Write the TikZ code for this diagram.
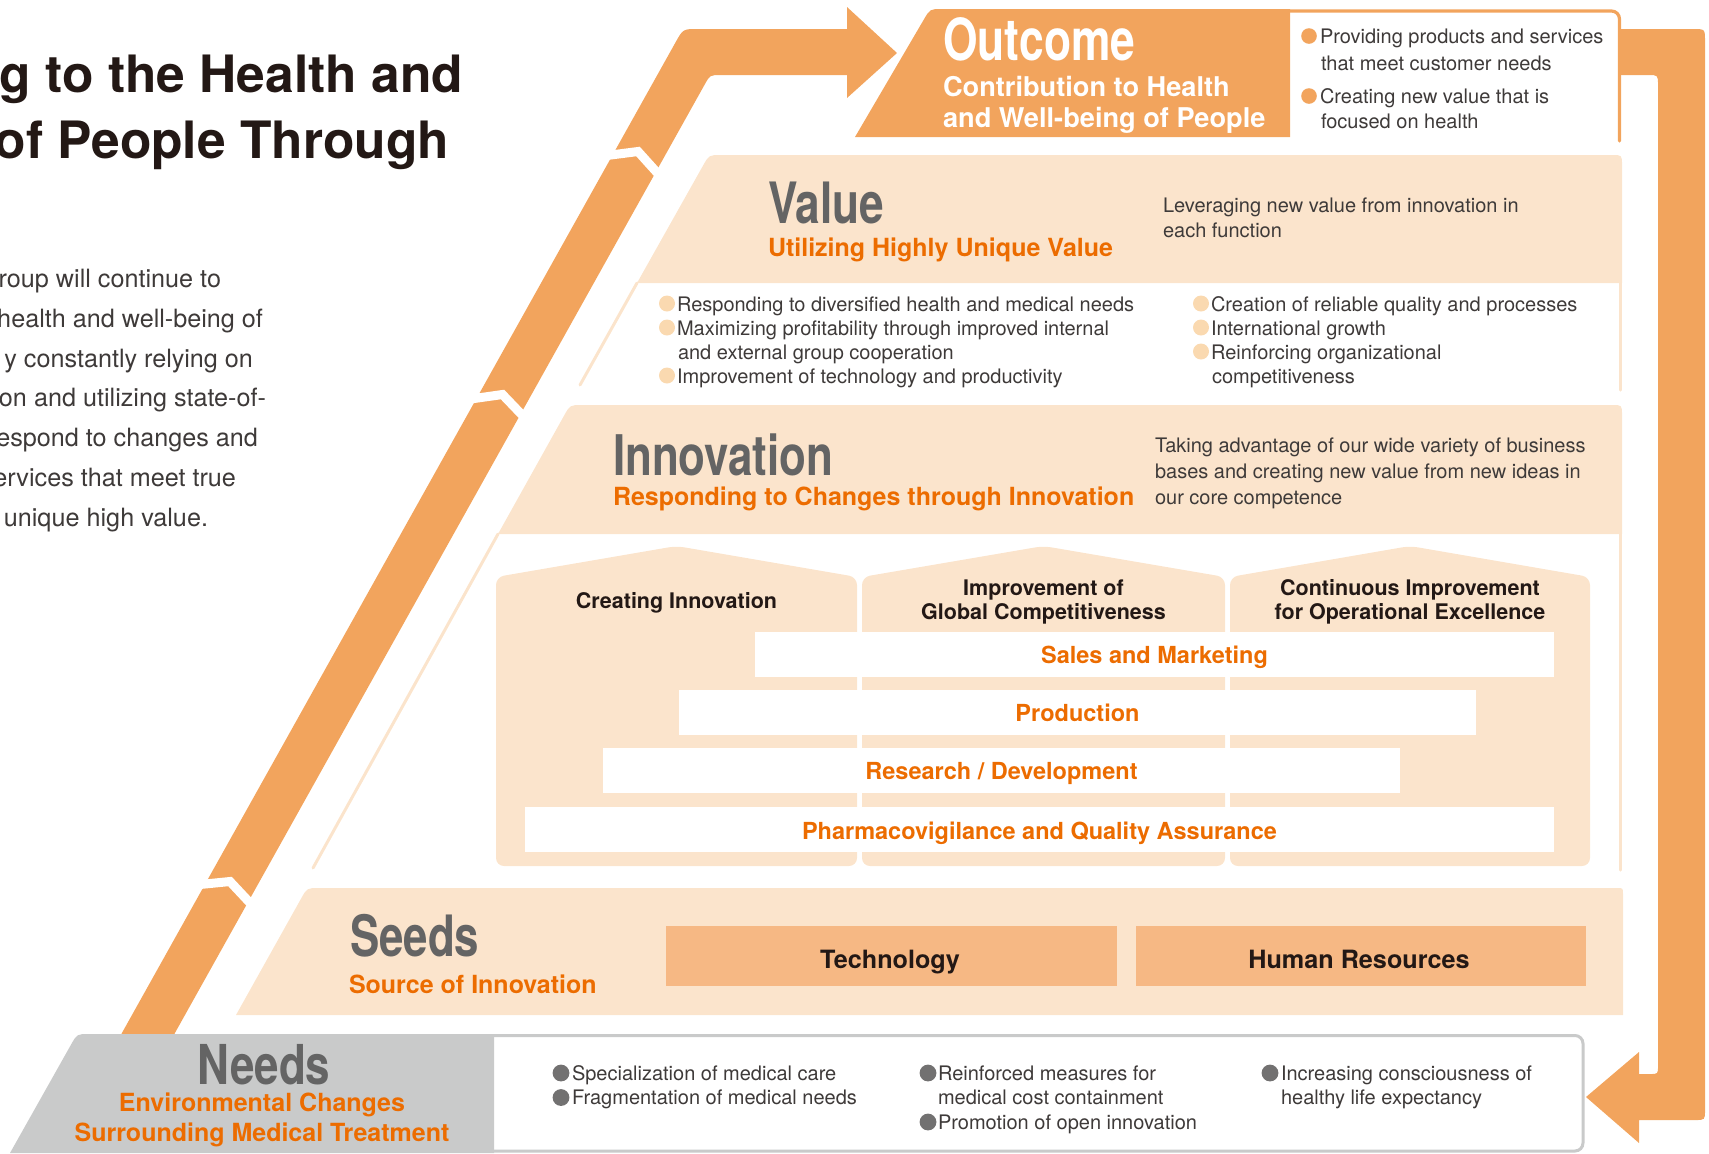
\documentclass[tikz,border=0pt]{standalone}
\usepackage{fontspec}
\setmainfont{TeX Gyre Heros}
\usepackage{graphicx}
\usetikzlibrary{calc}
\newcommand{\fsz}[1]{\fontsize{#1pt}{#1pt}\selectfont}
\newcommand{\condhead}[2]{\scalebox{#1}[1]{#2}}
\definecolor{band}{HTML}{F2A45D}
\definecolor{peach}{HTML}{FBE4CC}
\definecolor{bulpeach}{HTML}{FAD9B0}
\definecolor{techfill}{HTML}{F6B884}
\definecolor{needgray}{HTML}{C9CACA}
\definecolor{orangetxt}{HTML}{EC6C00}
\definecolor{headgray}{HTML}{646464}
\definecolor{darktxt}{HTML}{231815}
\definecolor{bodytxt}{HTML}{3E3A39}
\definecolor{bulgray}{HTML}{727171}
\begin{document}
\begin{tikzpicture}[x=0.5pt,y=-0.5pt,
  every node/.style={inner sep=0pt,outer sep=0pt},
  bodytext/.style={anchor=base west,font={\fsz{10}},text=bodytxt},
  paratext/.style={anchor=base east,font={\fsz{12.6}},text=bodytxt},
  titletext/.style={anchor=base east,font={\fsz{25.75}\bfseries},text=darktxt},
  bighead/.style={anchor=base west,font={\fsz{28.5}\bfseries},text=headgray},
  subhead/.style={anchor=base west,font={\fsz{12.5}\bfseries},text=orangetxt},
  pillartext/.style={anchor=base,font={\fsz{10.75}\bfseries},text=darktxt},
  barlabel/.style={anchor=base,font={\fsz{11.75}\bfseries},text=orangetxt},
  seedlabel/.style={anchor=base,font={\fsz{12.6}\bfseries},text=darktxt},
  peachline/.style={draw=peach,line width=1.5pt,line cap=round},
  notch/.style={draw=white,line width=4.5pt,line join=miter},
]
\useasboundingbox (0,0) rectangle (1709,1153);

% ---------- left orange band with arrow head ----------
\fill[band] (118,1040) -- ($(683,29)!7.5pt!(118,1040)$) .. controls (683,29) .. ($(683,29)!7.5pt!(847,29)$)
  -- (847,29) -- (847,7) -- (897,53) -- (847,98) -- (847,75)
  -- ($(710,75)!5.5pt!(847,75)$) .. controls (710,75) .. ($(710,75)!5.5pt!(171,1040)$) -- (171,1040) -- cycle;
\draw[notch] (603,156) -- (638,151.5) -- (661,177);
\draw[notch] (467,399.5) -- (502.5,394.5) -- (525,418);
\draw[notch] (195,885) -- (230,881.5) -- (252,905);

% ---------- right orange band with arrow head ----------
\fill[band] (1620,29) -- ($(1705,29)!6pt!(1620,29)$) .. controls (1705,29) .. ($(1705,29)!6pt!(1705,1120)$)
  -- ($(1705,1120)!5pt!(1705,29)$) .. controls (1705,1120) .. ($(1705,1120)!5pt!(1639,1120)$)
  -- (1639,1120) -- (1639,1143) -- (1586,1097) -- (1639,1052) -- (1639,1074)
  -- ($(1658,1074)!4pt!(1639,1074)$) .. controls (1658,1074) .. ($(1658,1074)!4pt!(1658,75)$)
  -- ($(1658,75)!5pt!(1658,1074)$) .. controls (1658,75) .. ($(1658,75)!5pt!(1620,75)$) -- (1620,75) -- cycle;

% ---------- Outcome ----------
\fill[band] (855,137) -- ($(930,9)!6pt!(855,137)$) .. controls (930,9) .. ($(930,9)!6pt!(1290,9)$) -- (1290,9) -- (1290,137) -- cycle;
\draw[band,line width=1.6pt,rounded corners=4pt,line cap=round] (1285,11) -- (1619.5,11) -- (1619.5,141);

% ---------- Value ----------
\fill[peach] (637,283) -- ($(709,155)!6pt!(637,283)$) .. controls (709,155) .. ($(709,155)!6pt!(1622,155)$)
  -- ($(1622,155)!5pt!(709,155)$) .. controls (1622,155) .. ($(1622,155)!5pt!(1622,283)$) -- (1622,283) -- cycle;
\draw[peachline] (637,283) -- (580,385);
\draw[peachline] (1620,283) -- (1620,390);

% ---------- Innovation ----------
\fill[peach] (498,534) -- ($(570,405)!6pt!(498,534)$) .. controls (570,405) .. ($(570,405)!6pt!(1622,405)$)
  -- ($(1622,405)!5pt!(570,405)$) .. controls (1622,405) .. ($(1622,405)!5pt!(1622,534)$) -- (1622,534) -- cycle;
\draw[peachline] (498,534) -- (313,868);
\draw[peachline] (1620,534) -- (1620,870);

% pillars
\fill[peach,rounded corners=4pt] (496,866) -- (496,577) -- (676.5,546) -- (857,577) -- (857,866) -- cycle;
\fill[peach,rounded corners=4pt] (862,866) -- (862,577) -- (1043.5,546) -- (1225,577) -- (1225,866) -- cycle;
\fill[peach,rounded corners=4pt] (1230,866) -- (1230,577) -- (1410,546) -- (1590,577) -- (1590,866) -- cycle;
% bars
\fill[white] (755,632) rectangle (1554,677);
\fill[white] (679,690) rectangle (1476,735);
\fill[white] (603,748) rectangle (1400,793);
\fill[white] (525,807) rectangle (1554,852);

% ---------- Seeds ----------
\fill[peach] (236,1015) -- ($(307,888)!6pt!(236,1015)$) .. controls (307,888) .. ($(307,888)!6pt!(1623,888)$)
  -- ($(1623,888)!3pt!(307,888)$) .. controls (1623,888) .. ($(1623,888)!3pt!(1623,1015)$) -- (1623,1015) -- cycle;
\fill[techfill] (666,926) rectangle (1117,986);
\fill[techfill] (1136,926) rectangle (1586,986);

% ---------- Needs ----------
\draw[needgray,line width=1.5pt,fill=white,rounded corners=4pt] (480,1035.5) rectangle (1583,1151);
\fill[needgray] (10,1153) -- ($(77,1034)!6pt!(10,1153)$) .. controls (77,1034) .. ($(77,1034)!6pt!(494,1034)$) -- (494,1034) -- (494,1153) -- cycle;

% ---------- bullets ----------
\fill[band] (1309,36) circle (3.9pt);
\fill[band] (1309,96) circle (3.9pt);
\foreach \yy in {303.5,327.5,375.5} {\fill[bulpeach] (667,\yy) circle (4pt);}
\foreach \yy in {303.5,327.5,351.5} {\fill[bulpeach] (1201,\yy) circle (4pt);}
\fill[bulgray] (561,1073) circle (4.2pt);
\fill[bulgray] (561,1097.5) circle (4.2pt);
\fill[bulgray] (928,1073) circle (4.2pt);
\fill[bulgray] (928,1122) circle (4.2pt);
\fill[bulgray] (1270,1073) circle (4.2pt);

% ---------- left title and paragraph ----------
\node[titletext] (t1) at (463,92) {g to the Health and};
\node[titletext] (t2) at (449,158) {of People Through};
\node[paratext] (p1) at (221,287) {roup will continue to};
\node[paratext] (p2) at (263,327) {health and well-being of};
\node[paratext] (p3) at (253,367) {y constantly relying on};
\node[paratext] (p4) at (266,406) {on and utilizing state-of-};
\node[paratext] (p5) at (258,446) {espond to changes and};
\node[paratext] (p6) at (236,486) {ervices that meet true};
\node[paratext] (p7) at (208,526) {unique high value.};

% ---------- Outcome texts ----------
\node[bighead,text=white,font={\fsz{29}\bfseries}] (outcome) at (943,60) {\condhead{0.765}{Outcome}};
\node[anchor=base west,font={\fsz{13.6}\bfseries},text=white] (oc1) at (943,96) {Contribution to Health};
\node[anchor=base west,font={\fsz{13.6}\bfseries},text=white] (oc2) at (943,127) {and Well-being of People};
\node[bodytext] (ob1) at (1320,43) {Providing products and services};
\node[bodytext] (ob2) at (1321,70) {that meet customer needs};
\node[bodytext] (ob3) at (1320,103) {Creating new value that is};
\node[bodytext] (ob4) at (1321,128) {focused on health};

% ---------- Value texts ----------
\node[bighead] (value) at (768,223) {\condhead{0.776}{Value}};
\node[subhead] (valuesub) at (768,256) {Utilizing Highly Unique Value};
\node[bodytext] (vd1) at (1163,212) {Leveraging new value from innovation in};
\node[bodytext] (vd2) at (1163,237) {each function};
\node[bodytext] (va1) at (677,311) {Responding to diversified health and medical needs};
\node[bodytext] (va2) at (677,335) {Maximizing profitability through improved internal};
\node[bodytext] (va3) at (678,359) {and external group cooperation};
\node[bodytext] (va4) at (677,383) {Improvement of technology and productivity};
\node[bodytext] (vb1) at (1211,311) {Creation of reliable quality and processes};
\node[bodytext] (vb2) at (1211,335) {International growth};
\node[bodytext] (vb3) at (1211,359) {Reinforcing organizational};
\node[bodytext] (vb4) at (1212,383) {competitiveness};

% ---------- Innovation texts ----------
\node[bighead,font={\fsz{28}\bfseries}] (innov) at (613,475) {\condhead{0.784}{Innovation}};
\node[subhead] (innovsub) at (613,505) {Responding to Changes through Innovation};
\node[bodytext] (id1) at (1155,452) {Taking advantage of our wide variety of business};
\node[bodytext] (id2) at (1155,478) {bases and creating new value from new ideas in};
\node[bodytext] (id3) at (1155,504) {our core competence};
\node[pillartext] (pl1) at (676.5,608) {Creating Innovation};
\node[pillartext] (pl2a) at (1043.5,595.5) {Improvement of};
\node[pillartext] (pl2b) at (1043.5,619.5) {Global Competitiveness};
\node[pillartext] (pl3a) at (1410,595.5) {Continuous Improvement};
\node[pillartext] (pl3b) at (1410,619.5) {for Operational Excellence};
\node[barlabel] (bar1) at (1154.5,663) {Sales and Marketing};
\node[barlabel] (bar2) at (1077.5,721) {Production};
\node[barlabel] (bar3) at (1001.5,779) {Research / Development};
\node[barlabel] (bar4) at (1039.5,839) {Pharmacovigilance and Quality Assurance};

% ---------- Seeds texts ----------
\node[bighead] (seeds) at (350,956) {\condhead{0.77}{Seeds}};
\node[subhead] (seedssub) at (349,993) {Source of Innovation};
\node[seedlabel] (tech) at (890,968) {Technology};
\node[seedlabel] (hr) at (1359,968) {Human Resources};

% ---------- Needs texts ----------
\node[bighead,anchor=base,font={\fsz{27.5}\bfseries}] (needs) at (264,1084) {\condhead{0.8}{Needs}};
\node[subhead,anchor=base] (needs1) at (262,1111) {Environmental Changes};
\node[subhead,anchor=base] (needs2) at (262,1141) {Surrounding Medical Treatment};
\node[bodytext] (n1) at (572,1080) {Specialization of medical care};
\node[bodytext] (n2) at (572,1104.5) {Fragmentation of medical needs};
\node[bodytext] (n3) at (938,1080) {Reinforced measures for};
\node[bodytext] (n4) at (938,1104.5) {medical cost containment};
\node[bodytext] (n5) at (938,1129) {Promotion of open innovation};
\node[bodytext] (n6) at (1281,1080) {Increasing consciousness of};
\node[bodytext] (n7) at (1281,1104.5) {healthy life expectancy};
\end{tikzpicture}
\end{document}
